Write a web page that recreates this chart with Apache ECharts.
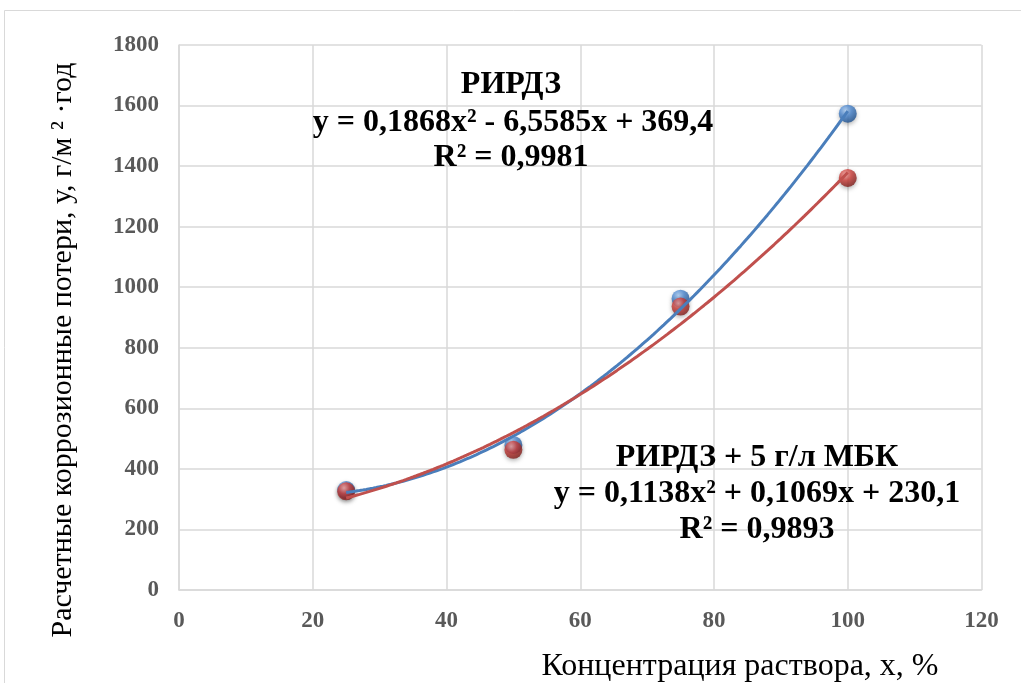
<!DOCTYPE html>
<html>
<head>
<meta charset="utf-8">
<script src="https://cdn.jsdelivr.net/npm/echarts@6/dist/echarts.min.js"></script>
<style>
  html, body { margin: 0; padding: 0; background: #ffffff; }
  #chart { width: 1021px; height: 683px; }
</style>
</head>
<body>
<div id="chart"></div>
<script>
// Concentration of the solution, %
const concentration = [25, 50, 75, 100];
// Corrosion losses, g/m²·year
const lossRirdz = [330, 479, 962, 1573];
const lossRirdzMbk = [326, 463, 936, 1361];
// Quadratic trendline coefficients [a, b, c] for y = a·x² + b·x + c
const trendRirdz = [0.1868, -6.5585, 369.4];
const trendRirdzMbk = [0.1138, 0.1069, 230.1];
const r2Rirdz = '0,9981';
const r2RirdzMbk = '0,9893';
// Axis ranges
const xAxisRange = [0, 120, 20];
const yAxisRange = [0, 1800, 200];

function trendPoints(coef, xs) {
  const pts = [];
  const from = xs[0], to = xs[xs.length - 1];
  for (let x = from; x <= to; x += 0.5) {
    pts.push([x, coef[0] * x * x + coef[1] * x + coef[2]]);
  }
  return pts;
}

function fmt(v) {
  return Math.abs(v).toFixed(4).replace(/\.?0+$/, '').replace('.', ',');
}
function equation(coef) {
  const s1 = coef[1] < 0 ? ' - ' : ' + ';
  const s2 = coef[2] < 0 ? ' - ' : ' + ';
  return 'y = ' + fmt(coef[0]) + 'x²' + s1 + fmt(coef[1]) + 'x' + s2 + fmt(coef[2]);
}

function sphere(light, mid, dark) {
  return {
    type: 'radial', x: 0.38, y: 0.32, r: 0.7,
    colorStops: [
      { offset: 0, color: light },
      { offset: 0.45, color: mid },
      { offset: 1, color: dark }
    ]
  };
}

const serif = '"Liberation Serif", "Times New Roman", serif';
const chart = echarts.init(document.getElementById('chart'));

const labelStyle = {
  fontFamily: serif, fontSize: 32, fontWeight: 'bold', fill: '#000000',
  textAlign: 'center', textVerticalAlign: 'middle'
};
function label(text, x, y) {
  return { type: 'text', x: x, y: y, z: 100, style: Object.assign({ text: text }, labelStyle) };
}

const tickLabel = { color: '#595959', fontFamily: serif, fontSize: 23, fontWeight: 'bold', formatter: v => String(v) };

chart.setOption({
  animation: false,
  backgroundColor: '#ffffff',
  grid: { left: 179, top: 45, right: 39.5, bottom: 93 },
  xAxis: {
    type: 'value', min: xAxisRange[0], max: xAxisRange[1], interval: xAxisRange[2],
    axisLine: { show: true, lineStyle: { color: '#d9d9d9', width: 1.5 } },
    axisTick: { show: false },
    splitLine: { show: true, lineStyle: { color: '#d9d9d9', width: 1.5 } },
    axisLabel: Object.assign({ margin: 20 }, tickLabel)
  },
  yAxis: {
    type: 'value', min: yAxisRange[0], max: yAxisRange[1], interval: yAxisRange[2],
    axisLine: { show: true, lineStyle: { color: '#d9d9d9', width: 1.5 } },
    axisTick: { show: false },
    splitLine: { show: true, lineStyle: { color: '#d9d9d9', width: 1.5 } },
    axisLabel: Object.assign({ margin: 20 }, tickLabel)
  },
  series: [
    {
      name: 'РИРДЗ', type: 'scatter', z: 2, symbolSize: 18,
      data: concentration.map((x, i) => [x, lossRirdz[i]]),
      itemStyle: {
        color: sphere('#a9cdf5', '#4a86cf', '#1d4f8c'),
        shadowBlur: 4, shadowColor: 'rgba(0,0,0,0.35)', shadowOffsetY: 2
      }
    },
    {
      name: 'РИРДЗ + 5 г/л МБК', type: 'scatter', z: 2, symbolSize: 18,
      data: concentration.map((x, i) => [x, lossRirdzMbk[i]]),
      itemStyle: {
        color: sphere('#f5a19d', '#cf403b', '#7d1c19'),
        shadowBlur: 4, shadowColor: 'rgba(0,0,0,0.35)', shadowOffsetY: 2
      }
    },
    {
      type: 'line', z: 3, showSymbol: false, silent: true,
      data: trendPoints(trendRirdz, concentration),
      lineStyle: { color: '#4a7ebb', width: 3 }
    },
    {
      type: 'line', z: 3, showSymbol: false, silent: true,
      data: trendPoints(trendRirdzMbk, concentration),
      lineStyle: { color: '#c0504d', width: 3 }
    }
  ],
  graphic: [
    {
      type: 'rect', z: -1, silent: true,
      shape: { x: 4.5, y: 10.5, width: 1100, height: 800 },
      style: { fill: 'none', stroke: '#d9d9d9', lineWidth: 1 }
    },
    label('РИРДЗ', 511, 85),
    label(equation(trendRirdz), 513, 123),
    label('R² = ' + r2Rirdz, 511, 158),
    label('РИРДЗ + 5 г/л МБК', 757, 458),
    label(equation(trendRirdzMbk), 757, 494),
    label('R² = ' + r2RirdzMbk, 757, 530),
    {
      type: 'text', x: 740, y: 667, z: 100,
      style: {
        text: 'Концентрация раствора, х, %', fontFamily: serif, fontSize: 32,
        fill: '#000000', textAlign: 'center', textVerticalAlign: 'middle'
      }
    },
    {
      type: 'text', x: 63, y: 350, z: 100, rotation: Math.PI / 2,
      style: {
        text: 'Расчетные коррозионные потери, у, г/м ² ·год', fontFamily: serif, fontSize: 30,
        fill: '#000000', textAlign: 'center', textVerticalAlign: 'middle'
      }
    }
  ]
});
</script>
</body>
</html>
